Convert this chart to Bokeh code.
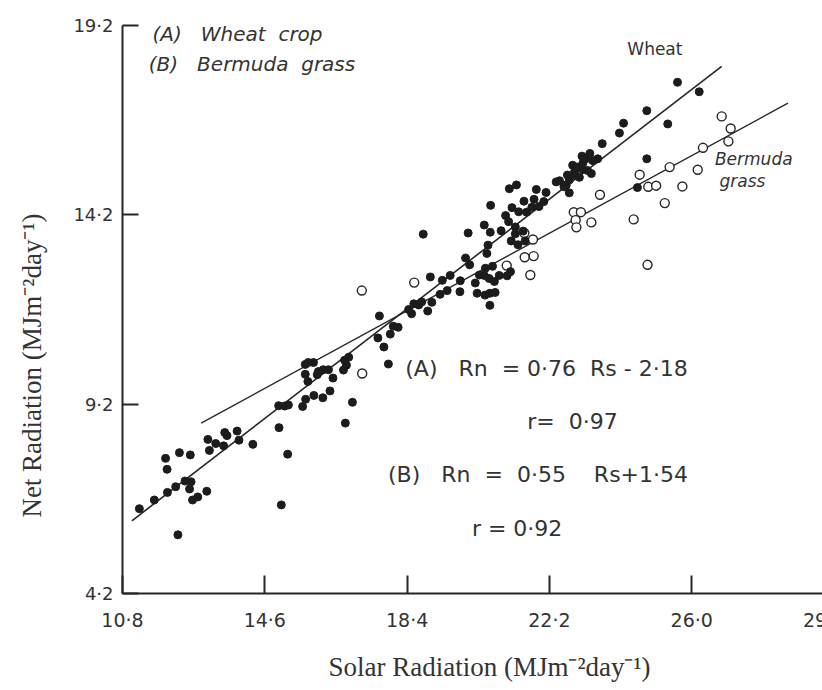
import math
from bokeh.plotting import figure
from bokeh.models import FixedTicker, Label
from bokeh.core.properties import value
from bokeh.embed import file_html
from bokeh.resources import INLINE

# ---- data ----
wheat_rs = [11.25, 11.65, 12.00, 12.22, 12.47, 12.63, 12.59, 12.67, 12.81, 13.05,
            12.28, 11.95, 11.99, 12.32, 12.61, 13.08, 13.12, 13.29, 13.53, 13.59,
            13.86, 13.50, 13.91, 14.28, 14.98, 15.21, 15.04, 14.97, 15.13, 15.23,
            15.61, 15.69, 15.91, 16.15, 16.34, 16.75, 16.94, 15.68, 15.76, 15.90,
            15.68, 15.75, 16.00, 16.03, 16.16, 16.30, 16.42, 16.73, 16.78, 16.70,
            16.84, 17.66, 18.03, 18.16, 17.95, 17.62, 17.78, 17.90, 18.44, 18.58,
            18.71, 18.95, 18.79, 18.83, 19.02, 19.34, 19.55, 19.82, 19.96, 20.07,
            20.03, 20.46, 20.62, 20.56, 20.53, 20.63, 21.03, 21.20, 21.38, 21.13,
            21.32, 21.52, 21.79, 21.85, 22.11, 22.05, 21.59, 21.73, 21.92, 20.91,
            21.11, 21.29, 21.29, 21.50, 21.55, 21.18, 21.36, 20.68, 20.49, 20.46,
            20.59, 20.73, 20.86, 21.07, 21.16, 20.33, 20.22, 20.27, 20.48, 20.61,
            20.75, 20.61, 22.38, 22.65, 22.73, 22.87, 19.06, 18.52, 19.28, 19.47,
            19.81, 25.62, 26.20, 24.80, 25.36, 24.18, 24.07, 23.61, 24.80, 23.07,
            23.28, 23.36, 23.49, 22.82, 22.95, 23.09, 23.22, 23.32, 22.87, 23.00,
            22.68, 22.73, 22.47, 22.59, 23.09, 23.20, 24.55]
wheat_rn = [6.44, 6.67, 6.87, 7.02, 7.17, 7.15, 6.96, 6.67, 6.75, 6.90,
            5.75, 7.77, 7.48, 7.92, 7.86, 8.27, 7.98, 8.16, 8.45, 8.37,
            8.49, 8.10, 8.25, 8.14, 8.58, 7.88, 6.54, 9.16, 9.15, 9.18,
            9.14, 9.33, 9.43, 9.37, 9.55, 8.70, 9.25, 10.25, 10.30, 10.30,
            9.99, 9.80, 9.98, 10.06, 10.11, 10.11, 9.89, 10.36, 10.23, 10.10,
            10.44, 11.53, 11.26, 11.23, 11.05, 10.95, 10.71, 10.26, 11.70, 11.85,
            11.82, 11.66, 11.90, 13.69, 12.56, 12.47, 12.60, 12.46, 13.06, 12.88,
            13.72, 13.93, 13.74, 13.40, 13.18, 14.45, 14.18, 14.39, 14.28, 14.89,
            14.99, 14.56, 14.61, 14.87, 14.79, 14.55, 14.27, 14.40, 14.42, 13.78,
            14.02, 13.88, 13.70, 13.77, 13.51, 13.51, 13.41, 12.84, 12.79, 12.60,
            12.52, 12.44, 12.60, 12.59, 12.70, 12.61, 12.40, 12.13, 12.08, 12.13,
            12.15, 11.81, 15.07, 14.99, 14.78, 15.25, 11.89, 11.59, 12.10, 12.20,
            12.17, 17.70, 17.45, 16.95, 16.60, 16.62, 16.36, 16.08, 15.68, 15.75,
            15.82, 15.63, 15.68, 15.51, 15.46, 15.40, 15.37, 15.29, 15.33, 15.19,
            15.25, 15.12, 15.10, 14.94, 15.56, 15.69, 14.92]

bermuda_rs = [17.19, 17.20, 18.59, 21.06, 21.53, 21.76, 21.54, 21.78, 21.69, 22.85,
              22.90, 26.80, 27.04, 26.98, 26.30, 26.16, 25.41, 24.61, 24.84, 25.05,
              25.75, 25.28, 23.55, 23.04, 22.92, 23.32, 24.45, 24.82]
bermuda_rn = [12.20, 10.01, 12.41, 12.86, 13.72, 13.55, 13.08, 13.11, 12.61, 14.27,
              14.06, 16.80, 16.48, 16.14, 15.97, 15.39, 15.46, 15.26, 14.94, 14.97,
              14.95, 14.51, 14.73, 14.27, 13.87, 14.00, 14.08, 12.88]

# fitted lines, end points
wheat_line_rs = [11.05, 26.80]
wheat_line_rn = [6.12, 18.12]
bermuda_line_rs = [12.90, 28.57]
bermuda_line_rn = [8.70, 17.15]

x_ticks = [10.8, 14.6, 18.4, 22.2, 26.0]
x_tick_labels = ["10·8", "14·6", "18·4", "22·2", "26·0"]
x_extra_tick = 29.8
x_extra_label = "29·8"
y_ticks = [4.2, 9.2, 14.2, 19.2]
y_tick_labels = ["4·2", "9·2", "14·2", "19·2"]

x_title = "Solar Radiation (MJm⁻²day⁻¹)"
y_title = "Net Radiation (MJm⁻²day⁻¹)"

NB = "\u00a0"
legend_texts = ["(A)" + NB * 3 + "Wheat" + NB * 2 + "crop",
                "(B)" + NB * 3 + "Bermuda" + NB * 2 + "grass"]
curve_names = ["Wheat", "Bermuda", "grass"]
equations = ["(A)" + NB * 3 + "Rn" + NB * 2 + "=" + NB + "0·76" + NB * 2 + "Rs" + NB + "-" + NB + "2·18",
             "r=" + NB * 2 + "0·97",
             "(B)" + NB * 3 + "Rn" + NB * 2 + "=" + NB * 2 + "0·55" + NB * 4 + "Rs+1·54",
             "r" + NB + "=" + NB + "0·92"]

INK = "#262626"
TXT = "#333333"

# the frame covers the whole canvas; the axes sit at fixed data locations inside it
X0, X1 = 7.542, 29.492
Y0, Y1 = 1.639, 19.860

p = figure(width=822, height=690, x_range=(X0, X1), y_range=(Y0, Y1),
           output_backend="svg", toolbar_location=None,
           min_border_left=0, min_border_right=0, min_border_top=0, min_border_bottom=0)
p.grid.visible = False
p.outline_line_color = None
p.background_fill_color = "white"
p.border_fill_color = "white"

for ax in (p.xaxis[0], p.yaxis[0]):
    ax.axis_line_width = 2
    ax.axis_line_color = INK
    ax.major_tick_line_width = 2
    ax.major_tick_line_color = INK
    ax.major_tick_out = 0
    ax.minor_tick_in = 0
    ax.minor_tick_out = 0
    ax.major_label_text_font = "DejaVu Sans"
    ax.major_label_text_color = TXT

p.xaxis.fixed_location = y_ticks[0]
p.xaxis.bounds = (x_ticks[0], x_extra_tick)
p.xaxis.ticker = FixedTicker(ticks=x_ticks)
p.xaxis.major_label_overrides = dict(zip(x_ticks, x_tick_labels))
p.xaxis.major_tick_in = 18
p.xaxis.major_label_standoff = 15
p.xaxis.major_label_text_font_size = "19px"

p.yaxis.fixed_location = x_ticks[0]
p.yaxis.bounds = (y_ticks[0], y_ticks[-1])
p.yaxis.ticker = FixedTicker(ticks=y_ticks)
p.yaxis.major_label_overrides = dict(zip(y_ticks, y_tick_labels))
p.yaxis.major_tick_in = 16
p.yaxis.major_label_standoff = 9
p.yaxis.major_label_text_font_size = "18px"

# tick label of 29.8, cut by the right edge as in the original
p.add_layout(Label(x=x_extra_tick, y=y_ticks[0], text=x_extra_label, x_offset=-10, y_offset=-15,
                   text_align="center", text_baseline="top", text_font="DejaVu Sans",
                   text_font_size="19px", text_color=TXT))

# axis titles
p.add_layout(Label(x=20.6, y=2.25, text=x_title, text_align="center", text_baseline="middle",
                   text_font="Liberation Serif", text_font_size="27px", text_color=TXT))
p.add_layout(Label(x=8.37, y=10.22, text=y_title, angle=math.pi / 2,
                   text_align="center", text_baseline="middle",
                   text_font="Liberation Serif", text_font_size="27px", text_color=TXT))

# fitted lines
p.line(wheat_line_rs, wheat_line_rn, line_width=1.6, line_color=INK)
p.line(bermuda_line_rs, bermuda_line_rn, line_width=1.4, line_color=INK)

# points
p.scatter(bermuda_rs, bermuda_rn, size=9, fill_color="white", line_color=INK, line_width=1.4)
p.scatter(wheat_rs, wheat_rn, size=8, fill_color="#1c1c1c", line_color="#1c1c1c")

# legend notes (top left)
p.text(x=[11.60, 11.50], y=[18.97, 18.18], text=legend_texts,
       text_font=value("DejaVu Sans"), text_font_style="italic", text_font_size="20px",
       text_baseline="middle", text_align="left", text_color=TXT)

# curve names
p.text(x=[24.28], y=[18.57], text=curve_names[:1], text_font=value("DejaVu Sans"),
       text_font_size="17px", text_baseline="middle", text_align="left", text_color=TXT)
p.text(x=[26.62, 26.74], y=[15.67, 15.09], text=curve_names[1:], text_font=value("DejaVu Sans"),
       text_font_style="italic", text_font_size="17px", text_baseline="middle",
       text_align="left", text_color=TXT)

# equations
p.text(x=[18.35, 21.61, 17.89, 20.13], y=[10.14, 8.73, 7.35, 5.93], text=equations,
       text_font=value("DejaVu Sans"), text_font_size="22px", text_baseline="middle",
       text_align="left", text_color=TXT)

open("out.html", "w").write(file_html(p, INLINE))
